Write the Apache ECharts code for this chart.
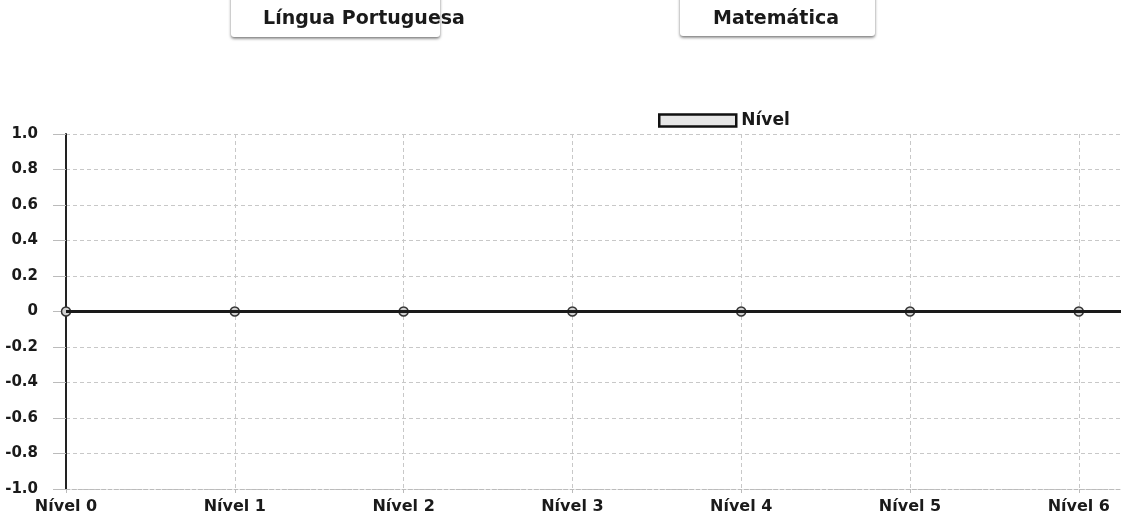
<!DOCTYPE html>
<html>
<head>
<meta charset="utf-8">
<script src="https://cdn.jsdelivr.net/npm/echarts@6/dist/echarts.min.js"></script>
<style>
  html, body { margin: 0; padding: 0; background: #fff; }
  #chart { width: 1121px; height: 520px; }
</style>
</head>
<body>
<div id="chart"></div>
<script>
  // dados
  var categories = ['Nível 0', 'Nível 1', 'Nível 2', 'Nível 3', 'Nível 4', 'Nível 5', 'Nível 6'];
  var nivelValues = [0, 0, 0, 0, 0, 0, 0];
  var tabs = ['Língua Portuguesa', 'Matemática'];

  var myChart = echarts.init(document.getElementById('chart'));
  var font = '"DejaVu Sans", sans-serif';

  var option = {
    backgroundColor: '#fff',
    animation: false,
    textStyle: { fontFamily: font },
    graphic: [
      {
        type: 'rect',
        shape: { x: 231, y: -6, width: 209, height: 43, r: 3 },
        style: { fill: '#fff', shadowBlur: 3, shadowOffsetY: 1.5, shadowColor: 'rgba(0,0,0,0.55)' }
      },
      {
        type: 'text', x: 364, y: 19,
        style: { text: tabs[0], font: 'bold 19px ' + font, fill: '#1a1a1a', align: 'center', verticalAlign: 'middle' }
      },
      {
        type: 'rect',
        shape: { x: 680, y: -6, width: 195, height: 42, r: 3 },
        style: { fill: '#fff', shadowBlur: 3, shadowOffsetY: 1.5, shadowColor: 'rgba(0,0,0,0.55)' }
      },
      {
        type: 'text', x: 776, y: 19,
        style: { text: tabs[1], font: 'bold 19px ' + font, fill: '#1a1a1a', align: 'center', verticalAlign: 'middle' }
      }
    ],
    legend: {
      left: 653,
      top: 107,
      itemWidth: 77,
      itemHeight: 12,
      itemGap: 10,
      data: [{
        name: 'Nível',
        icon: 'rect',
        itemStyle: { color: '#e6e6e6', borderColor: '#111', borderWidth: 2.5 }
      }],
      textStyle: { color: '#1a1a1a', fontSize: 17, fontWeight: 'bold' }
    },
    grid: {
      left: 66,
      right: 0,
      top: 134,
      bottom: 31,
      containLabel: false
    },
    xAxis: {
      type: 'value',
      min: 0,
      max: 6.25,
      interval: 1,
      axisLine: { show: true, onZero: false, lineStyle: { color: '#bbb', width: 1, type: 'dashed' } },
      axisTick: { show: true, length: 4, lineStyle: { color: '#bbb' } },
      axisLabel: {
        margin: 10,
        color: '#1a1a1a',
        fontSize: 16,
        fontWeight: 'bold',
        showMaxLabel: false,
        formatter: function (v) {
          return Number.isInteger(v) && categories[v] ? categories[v] : '';
        }
      },
      splitLine: { show: true, lineStyle: { color: '#c8c8c8', type: [4, 3], width: 1 } }
    },
    yAxis: {
      type: 'value',
      min: -1,
      max: 1,
      interval: 0.2,
      axisLine: { show: true, lineStyle: { color: '#222', width: 2 } },
      axisTick: { show: true, length: 13, lineStyle: { color: '#bbb' } },
      axisLabel: {
        margin: 28,
        color: '#1a1a1a',
        fontSize: 15,
        fontWeight: 'bold',
        formatter: function (v) {
          return Math.abs(v) < 1e-9 ? '0' : v.toFixed(1);
        }
      },
      splitLine: { show: true, lineStyle: { color: '#c8c8c8', type: [4, 3], width: 1 } }
    },
    series: [{
      name: 'Nível',
      type: 'line',
      data: nivelValues.map(function (v, i) { return [i, v]; }),
      symbol: 'circle',
      symbolSize: 9,
      lineStyle: { color: '#1a1a1a', width: 3 },
      itemStyle: { color: '#d0d0d0', borderColor: '#333', borderWidth: 1.5 },
      markLine: {
        silent: true,
        symbol: 'none',
        label: { show: false },
        lineStyle: { color: '#1a1a1a', type: 'solid', width: 3 },
        data: [{ yAxis: 0 }]
      }
    }]
  };

  myChart.setOption(option);
</script>
</body>
</html>
